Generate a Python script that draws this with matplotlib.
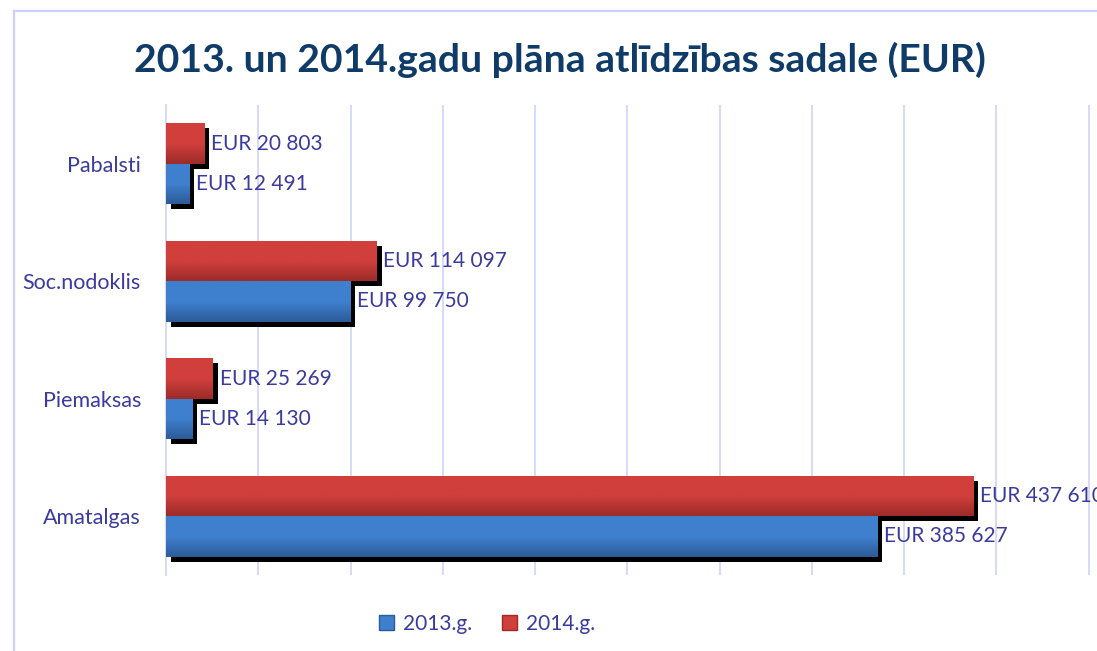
import matplotlib
matplotlib.use("Agg")
import matplotlib.pyplot as plt
import numpy as np
from matplotlib.transforms import ScaledTranslation
from matplotlib.patches import Patch
from matplotlib.colors import LinearSegmentedColormap

categories = ["Amatalgas", "Piemaksas", "Soc.nodoklis", "Pabalsti"]
values_2013 = [385627, 14130, 99750, 12491]
values_2014 = [437610, 25269, 114097, 20803]
series_names = ["2013.g.", "2014.g."]
title = "2013. un 2014.gadu plāna atlīdzības sadale (EUR)"

plt.rcParams['font.family'] = ['Lato', 'DejaVu Sans']

W, H = 1097, 651
fig = plt.figure(figsize=(W / 100, H / 100), dpi=100)
fig.patch.set_facecolor("white")

ax = fig.add_axes([166 / W, 1 - 575 / H, 1 - 166 / W, (575 - 105) / H])

text_color = "#3B3B9E"
grid_color = "#D6D6FA"
blue_top, blue_bot = "#3F80CE", "#2C5B98"
red_top, red_bot = "#D13F3C", "#9C2B29"

y = np.arange(len(categories))
bh = 0.343

shadow_tr = ax.transData + ScaledTranslation(5 / 100, -5 / 100, fig.dpi_scale_trans)
ax.barh(y + bh / 2, values_2014, height=bh, color="black", transform=shadow_tr, zorder=2)
ax.barh(y - bh / 2, values_2013, height=bh, color="black", transform=shadow_tr, zorder=2)

bars14 = ax.barh(y + bh / 2, values_2014, height=bh, color=red_top, zorder=3)
bars13 = ax.barh(y - bh / 2, values_2013, height=bh, color=blue_top, zorder=4)

grad = np.linspace(0, 1, 100).reshape(-1, 1)
for bars, top, bot, z in [(bars14, red_top, red_bot, 3.5), (bars13, blue_top, blue_bot, 4.5)]:
    cmap = LinearSegmentedColormap.from_list("g", [top, top, bot])
    for b in bars:
        x0, y0, w, h = b.get_x(), b.get_y(), b.get_width(), b.get_height()
        im = ax.imshow(grad, extent=(x0, x0 + w, y0, y0 + h), cmap=cmap,
                       aspect="auto", origin="upper", interpolation="bilinear", zorder=z)
        im.set_clip_path(b)

for bars, vals in [(bars14, values_2014), (bars13, values_2013)]:
    for b, v in zip(bars, vals):
        ax.annotate(f"EUR {v:,}".replace(",", " "),
                    xy=(b.get_width(), b.get_y() + b.get_height() / 2),
                    xytext=(5, 0), textcoords="offset points",
                    ha="left", va="center", fontsize=15, color=text_color,
                    annotation_clip=False, zorder=6)

ax.set_xlim(0, (W - 166) * 50000 / 92.25)
ax.set_ylim(-0.5, len(categories) - 0.5)
ax.set_xticks(np.arange(0, 500001, 50000))
ax.set_xticklabels([])
ax.tick_params(axis="x", length=0)
ax.set_yticks(y)
ax.set_yticklabels(categories, fontsize=15.5, color=text_color)
ax.tick_params(axis="y", length=0, pad=18)
ax.grid(axis="x", color=grid_color, linewidth=1.3, zorder=0)
ax.set_axisbelow(True)
for s in ["top", "right", "bottom"]:
    ax.spines[s].set_visible(False)
ax.spines["left"].set_color(grid_color)
ax.spines["left"].set_linewidth(1.3)
ax.set_facecolor("none")

fig.text(560 / W, 1 - 72 / H, title, ha="center", va="baseline",
         fontsize=28.2, fontweight="bold", color="#0F3B69")

handles = [Patch(facecolor=blue_top, edgecolor=blue_bot), Patch(facecolor=red_top, edgecolor=red_bot)]
fig.legend(handles, series_names, loc="center", bbox_to_anchor=(487 / W, 1 - 624 / H),
           ncol=2, frameon=False, fontsize=15, labelcolor=text_color,
           handlelength=0.72, handleheight=0.72, handletextpad=0.45, columnspacing=1.4)

fig.add_artist(plt.Line2D([14 / W, 14 / W], [0, 1 - 10.5 / H], transform=fig.transFigure,
                          color="#CFCFFB", linewidth=1.6))
fig.add_artist(plt.Line2D([14 / W, 1], [1 - 10.5 / H, 1 - 10.5 / H], transform=fig.transFigure,
                          color="#CFCFFB", linewidth=1.6))

fig.savefig("out.png", dpi=100)
